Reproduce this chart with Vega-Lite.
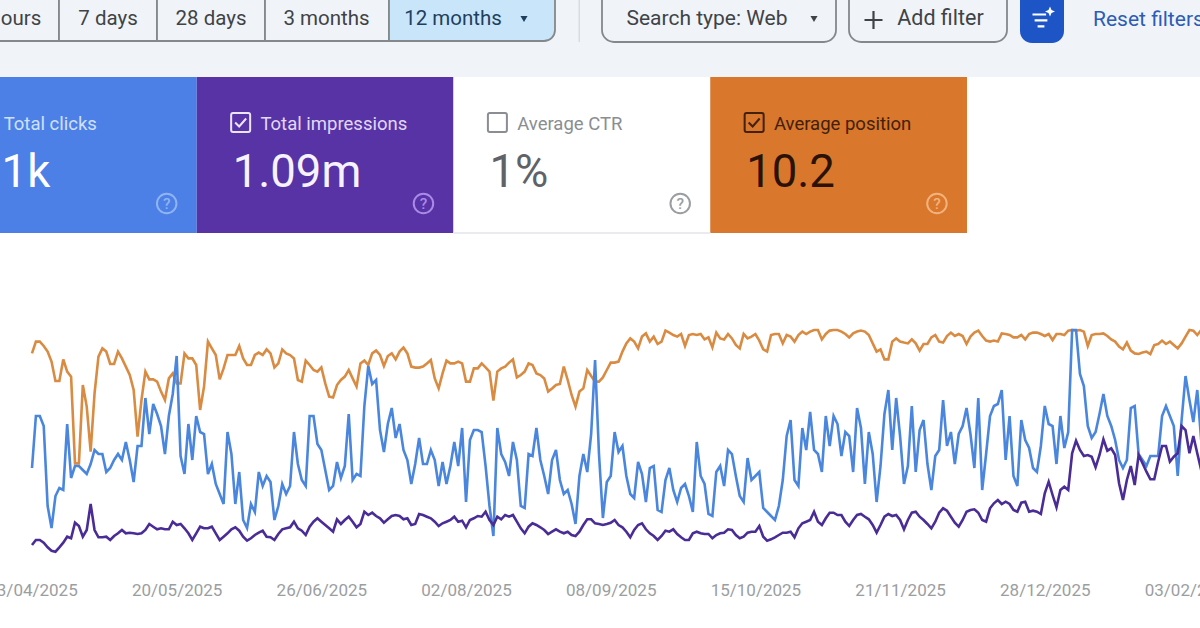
{"$schema":"https://vega.github.io/schema/vega-lite/v6.json","width":1200,"height":628,"padding":0,"autosize":{"type":"none"},"background":"#ffffff","config":{"view":{"stroke":null},"font":"Roboto"},
"datasets":{"cards":[{"metric":"Total clicks","headline":"1k","checked":true},{"metric":"Total impressions","headline":"1.09m","checked":true},{"metric":"Average CTR","headline":"1%","checked":false},{"metric":"Average position","headline":"10.2","checked":true}],
"daily":[
{"d":"2025-04-13","c":46,"i":1500,"p":9.67},{"d":"2025-04-14","c":72,"i":2000,"p":9.08},{"d":"2025-04-15","c":72,"i":2000,"p":9.08},{"d":"2025-04-16","c":67,"i":1730,"p":9.3},{"d":"2025-04-17","c":27,"i":1270,"p":9.58},{"d":"2025-04-18","c":16,"i":930,"p":10.08},{"d":"2025-04-19","c":32,"i":830,"p":11.05},{"d":"2025-04-20","c":36,"i":1270,"p":11.05},{"d":"2025-04-21","c":35,"i":1730,"p":9.97},{"d":"2025-04-22","c":68,"i":2330,"p":10.58},
{"d":"2025-04-23","c":41,"i":2170,"p":10.83},{"d":"2025-04-24","c":47,"i":3730,"p":15.17},{"d":"2025-04-25","c":47,"i":3400,"p":15.17},{"d":"2025-04-26","c":45,"i":2330,"p":11.25},{"d":"2025-04-27","c":43,"i":3000,"p":12.33},{"d":"2025-04-28","c":48,"i":5600,"p":14.58},{"d":"2025-04-29","c":55,"i":3000,"p":11.67},{"d":"2025-04-30","c":53,"i":2270,"p":9.83},{"d":"2025-05-01","c":53,"i":2270,"p":9.42},{"d":"2025-05-02","c":44,"i":2330,"p":9.58},
{"d":"2025-05-03","c":46,"i":2000,"p":10.2},{"d":"2025-05-04","c":50,"i":2400,"p":10.2},{"d":"2025-05-05","c":53,"i":2670,"p":9.58},{"d":"2025-05-06","c":50,"i":3000,"p":9.92},{"d":"2025-05-07","c":59,"i":2670,"p":10.33},{"d":"2025-05-08","c":50,"i":2730,"p":10.75},{"d":"2025-05-09","c":39,"i":2670,"p":11.5},{"d":"2025-05-10","c":57,"i":2600,"p":13.83},{"d":"2025-05-11","c":57,"i":2670,"p":12},{"d":"2025-05-12","c":81,"i":3000,"p":10.58},
{"d":"2025-05-13","c":63,"i":3600,"p":10.97},{"d":"2025-05-14","c":78,"i":3330,"p":10.97},{"d":"2025-05-15","c":73,"i":3070,"p":11.08},{"d":"2025-05-16","c":67,"i":3170,"p":11.58},{"d":"2025-05-17","c":53,"i":3070,"p":12},{"d":"2025-05-18","c":72,"i":3070,"p":10.92},{"d":"2025-05-19","c":83,"i":3830,"p":10.67},{"d":"2025-05-20","c":102,"i":3500,"p":11.17},{"d":"2025-05-21","c":52,"i":3600,"p":11.17},{"d":"2025-05-22","c":43,"i":3170,"p":9.67},
{"d":"2025-05-23","c":68,"i":2670,"p":9.92},{"d":"2025-05-24","c":50,"i":2000,"p":9.92},{"d":"2025-05-25","c":72,"i":2670,"p":10.25},{"d":"2025-05-26","c":64,"i":3330,"p":12.5},{"d":"2025-05-27","c":63,"i":3170,"p":11.33},{"d":"2025-05-28","c":43,"i":3170,"p":9.08},{"d":"2025-05-29","c":48,"i":3330,"p":9.42},{"d":"2025-05-30","c":38,"i":2670,"p":9.75},{"d":"2025-05-31","c":33,"i":2000,"p":10.97},{"d":"2025-06-01","c":28,"i":2330,"p":10.42},
{"d":"2025-06-02","c":64,"i":2670,"p":9.75},{"d":"2025-06-03","c":53,"i":3070,"p":9.75},{"d":"2025-06-04","c":28,"i":3270,"p":9.75},{"d":"2025-06-05","c":44,"i":2930,"p":9.3},{"d":"2025-06-06","c":20,"i":2330,"p":9.92},{"d":"2025-06-07","c":16,"i":1930,"p":10.25},{"d":"2025-06-08","c":28,"i":2170,"p":10.25},{"d":"2025-06-09","c":24,"i":2500,"p":9.75},{"d":"2025-06-10","c":44,"i":2730,"p":9.63},{"d":"2025-06-11","c":37,"i":2930,"p":9.75},
{"d":"2025-06-12","c":42,"i":2330,"p":9.47},{"d":"2025-06-13","c":39,"i":2270,"p":9.67},{"d":"2025-06-14","c":20,"i":2000,"p":10.37},{"d":"2025-06-15","c":27,"i":2600,"p":10.17},{"d":"2025-06-16","c":38,"i":3070,"p":9.47},{"d":"2025-06-17","c":33,"i":3170,"p":9.67},{"d":"2025-06-18","c":37,"i":3270,"p":9.75},{"d":"2025-06-19","c":64,"i":3830,"p":9.92},{"d":"2025-06-20","c":48,"i":3170,"p":11},
{"d":"2025-06-21","c":40,"i":2930,"p":11.08},{"d":"2025-06-22","c":37,"i":2500,"p":10.03},{"d":"2025-06-23","c":72,"i":3330,"p":10.25},{"d":"2025-06-24","c":72,"i":3830,"p":10.5},{"d":"2025-06-25","c":58,"i":4170,"p":10.58},{"d":"2025-06-26","c":55,"i":3830,"p":10.37},{"d":"2025-06-27","c":45,"i":3500,"p":11.17},{"d":"2025-06-28","c":35,"i":3170,"p":11.83},{"d":"2025-06-29","c":37,"i":2830,"p":11.87},{"d":"2025-06-30","c":49,"i":4070,"p":11.25},
{"d":"2025-07-01","c":41,"i":3600,"p":11},{"d":"2025-07-02","c":47,"i":4000,"p":10.83},{"d":"2025-07-03","c":73,"i":4330,"p":10.5},{"d":"2025-07-04","c":40,"i":3830,"p":10.92},{"d":"2025-07-05","c":43,"i":3270,"p":11.33},{"d":"2025-07-06","c":42,"i":3600,"p":10.17},{"d":"2025-07-07","c":77,"i":4830,"p":10.03},{"d":"2025-07-08","c":97,"i":4500,"p":10.25},{"d":"2025-07-09","c":88,"i":4730,"p":9.67},{"d":"2025-07-10","c":90,"i":4400,"p":9.53},
{"d":"2025-07-11","c":65,"i":4170,"p":9.75},{"d":"2025-07-12","c":54,"i":3730,"p":10.3},{"d":"2025-07-13","c":68,"i":4070,"p":9.8},{"d":"2025-07-14","c":76,"i":4400,"p":9.67},{"d":"2025-07-15","c":61,"i":4500,"p":9.97},{"d":"2025-07-16","c":68,"i":4400,"p":9.58},{"d":"2025-07-17","c":55,"i":4070,"p":9.38},{"d":"2025-07-18","c":50,"i":4170,"p":9.67},{"d":"2025-07-19","c":38,"i":3500,"p":10.33},{"d":"2025-07-20","c":48,"i":3600,"p":10.38},
{"d":"2025-07-21","c":61,"i":4600,"p":10.38},{"d":"2025-07-22","c":48,"i":4500,"p":10.33},{"d":"2025-07-23","c":48,"i":4330,"p":10.17},{"d":"2025-07-24","c":55,"i":4170,"p":10},{"d":"2025-07-25","c":50,"i":3830,"p":10.92},{"d":"2025-07-26","c":37,"i":3400,"p":11.42},{"d":"2025-07-27","c":49,"i":3670,"p":10.67},{"d":"2025-07-28","c":38,"i":3830,"p":10.03},{"d":"2025-07-29","c":47,"i":4000,"p":10.17},{"d":"2025-07-30","c":59,"i":4330,"p":10.17},
{"d":"2025-07-31","c":47,"i":3830,"p":10.08},{"d":"2025-08-01","c":66,"i":3930,"p":10.17},{"d":"2025-08-02","c":29,"i":3270,"p":11.08},{"d":"2025-08-03","c":60,"i":4000,"p":11.08},{"d":"2025-08-04","c":65,"i":4170,"p":10.42},{"d":"2025-08-05","c":65,"i":4400,"p":10.42},{"d":"2025-08-06","c":64,"i":4330,"p":10.17},{"d":"2025-08-07","c":47,"i":4830,"p":10.37},{"d":"2025-08-08","c":27,"i":4000,"p":10.58},{"d":"2025-08-09","c":12,"i":3500,"p":12.03},
{"d":"2025-08-10","c":66,"i":4330,"p":10.58},{"d":"2025-08-11","c":53,"i":4070,"p":10.42},{"d":"2025-08-12","c":49,"i":4500,"p":10.33},{"d":"2025-08-13","c":42,"i":4330,"p":10.13},{"d":"2025-08-14","c":59,"i":4500,"p":9.97},{"d":"2025-08-15","c":50,"i":3830,"p":10.87},{"d":"2025-08-16","c":27,"i":3170,"p":10.75},{"d":"2025-08-17","c":26,"i":2670,"p":10.58},{"d":"2025-08-18","c":53,"i":3330,"p":10.17},{"d":"2025-08-19","c":52,"i":3670,"p":10.25},
{"d":"2025-08-20","c":66,"i":3500,"p":10.67},{"d":"2025-08-21","c":50,"i":3270,"p":10.75},{"d":"2025-08-22","c":42,"i":3000,"p":10.92},{"d":"2025-08-23","c":33,"i":2600,"p":11.58},{"d":"2025-08-24","c":50,"i":2830,"p":11.42},{"d":"2025-08-25","c":55,"i":3070,"p":11.25},{"d":"2025-08-26","c":40,"i":2830,"p":11.2},{"d":"2025-08-27","c":33,"i":2670,"p":10.33},{"d":"2025-08-28","c":35,"i":2830,"p":11},{"d":"2025-08-29","c":28,"i":2500,"p":11.75},
{"d":"2025-08-30","c":18,"i":2400,"p":12.33},{"d":"2025-08-31","c":42,"i":2830,"p":11.58},{"d":"2025-09-01","c":53,"i":3500,"p":11.42},{"d":"2025-09-02","c":44,"i":4070,"p":10.5},{"d":"2025-09-03","c":63,"i":4070,"p":10.8},{"d":"2025-09-04","c":100,"i":3670,"p":11.08},{"d":"2025-09-05","c":53,"i":3600,"p":11.08},{"d":"2025-09-06","c":21,"i":3500,"p":10.87},{"d":"2025-09-07","c":39,"i":3600,"p":10.5},{"d":"2025-09-08","c":42,"i":3730,"p":10.13},
{"d":"2025-09-09","c":64,"i":4000,"p":10.13},{"d":"2025-09-10","c":54,"i":3500,"p":10.08},{"d":"2025-09-11","c":57,"i":3270,"p":9.58},{"d":"2025-09-12","c":42,"i":2830,"p":9.17},{"d":"2025-09-13","c":33,"i":2270,"p":8.92},{"d":"2025-09-14","c":31,"i":3000,"p":9.08},{"d":"2025-09-15","c":49,"i":3500,"p":9.42},{"d":"2025-09-16","c":43,"i":3670,"p":8.83},{"d":"2025-09-17","c":29,"i":3070,"p":8.67},{"d":"2025-09-18","c":46,"i":2670,"p":9.08},
{"d":"2025-09-19","c":47,"i":2400,"p":8.83},{"d":"2025-09-20","c":25,"i":2000,"p":9.2},{"d":"2025-09-21","c":24,"i":2400,"p":9.08},{"d":"2025-09-22","c":40,"i":2930,"p":8.53},{"d":"2025-09-23","c":46,"i":2830,"p":8.63},{"d":"2025-09-24","c":35,"i":3070,"p":8.75},{"d":"2025-09-25","c":29,"i":2600,"p":8.83},{"d":"2025-09-26","c":36,"i":2270,"p":8.7},{"d":"2025-09-27","c":38,"i":2000,"p":9.3},{"d":"2025-09-28","c":32,"i":2000,"p":8.75},
{"d":"2025-09-29","c":24,"i":2670,"p":8.7},{"d":"2025-09-30","c":59,"i":2830,"p":8.75},{"d":"2025-10-01","c":42,"i":2670,"p":8.7},{"d":"2025-10-02","c":38,"i":2600,"p":8.97},{"d":"2025-10-03","c":23,"i":2600,"p":8.87},{"d":"2025-10-04","c":22,"i":2170,"p":9.37},{"d":"2025-10-05","c":44,"i":2500,"p":8.63},{"d":"2025-10-06","c":47,"i":2670,"p":8.92},{"d":"2025-10-07","c":37,"i":2730,"p":8.97},{"d":"2025-10-08","c":55,"i":3070,"p":8.7},
{"d":"2025-10-09","c":53,"i":3000,"p":8.92},{"d":"2025-10-10","c":42,"i":2500,"p":9.25},{"d":"2025-10-11","c":32,"i":2170,"p":9.42},{"d":"2025-10-12","c":29,"i":2330,"p":8.7},{"d":"2025-10-13","c":51,"i":2730,"p":8.92},{"d":"2025-10-14","c":40,"i":2830,"p":8.83},{"d":"2025-10-15","c":42,"i":2830,"p":8.7},{"d":"2025-10-16","c":44,"i":3400,"p":9.03},{"d":"2025-10-17","c":26,"i":2330,"p":9.47},{"d":"2025-10-18","c":24,"i":1930,"p":9.58},
{"d":"2025-10-19","c":22,"i":2070,"p":8.75},{"d":"2025-10-20","c":20,"i":2270,"p":8.7},{"d":"2025-10-21","c":27,"i":2500,"p":8.7},{"d":"2025-10-22","c":40,"i":2730,"p":9.17},{"d":"2025-10-23","c":62,"i":2730,"p":8.75},{"d":"2025-10-24","c":70,"i":2830,"p":8.83},{"d":"2025-10-25","c":40,"i":2270,"p":9.08},{"d":"2025-10-26","c":37,"i":3170,"p":8.75},{"d":"2025-10-27","c":66,"i":3670,"p":8.58},{"d":"2025-10-28","c":55,"i":3830,"p":8.7},
{"d":"2025-10-29","c":74,"i":4000,"p":8.58},{"d":"2025-10-30","c":55,"i":4830,"p":8.5},{"d":"2025-10-31","c":53,"i":3830,"p":8.5},{"d":"2025-11-01","c":44,"i":3500,"p":8.97},{"d":"2025-11-02","c":72,"i":4170,"p":8.7},{"d":"2025-11-03","c":57,"i":4730,"p":8.53},{"d":"2025-11-04","c":72,"i":4730,"p":8.5},{"d":"2025-11-05","c":68,"i":4500,"p":8.5},{"d":"2025-11-06","c":52,"i":4500,"p":8.58},{"d":"2025-11-07","c":64,"i":3830,"p":8.7},
{"d":"2025-11-08","c":62,"i":3400,"p":8.87},{"d":"2025-11-09","c":44,"i":4000,"p":8.67},{"d":"2025-11-10","c":76,"i":4500,"p":8.58},{"d":"2025-11-11","c":66,"i":4600,"p":8.53},{"d":"2025-11-12","c":38,"i":4330,"p":8.58},{"d":"2025-11-13","c":64,"i":4070,"p":8.75},{"d":"2025-11-14","c":53,"i":3500,"p":9.17},{"d":"2025-11-15","c":29,"i":2730,"p":9.58},{"d":"2025-11-16","c":47,"i":3500,"p":9.47},{"d":"2025-11-17","c":73,"i":4330,"p":9.97},
{"d":"2025-11-18","c":85,"i":4600,"p":9.97},{"d":"2025-11-19","c":55,"i":4400,"p":9.08},{"d":"2025-11-20","c":81,"i":4500,"p":8.92},{"d":"2025-11-21","c":62,"i":4000,"p":9.08},{"d":"2025-11-22","c":38,"i":3070,"p":9.13},{"d":"2025-11-23","c":47,"i":4000,"p":9.17},{"d":"2025-11-24","c":77,"i":4730,"p":8.97},{"d":"2025-11-25","c":44,"i":4830,"p":9.17},{"d":"2025-11-26","c":65,"i":4330,"p":9.53},{"d":"2025-11-27","c":70,"i":4000,"p":9.2},
{"d":"2025-11-28","c":48,"i":3600,"p":9.2},{"d":"2025-11-29","c":35,"i":3170,"p":8.87},{"d":"2025-11-30","c":52,"i":3830,"p":8.75},{"d":"2025-12-01","c":55,"i":4730,"p":9.08},{"d":"2025-12-02","c":80,"i":5170,"p":9.13},{"d":"2025-12-03","c":57,"i":4930,"p":8.8},{"d":"2025-12-04","c":64,"i":4330,"p":8.63},{"d":"2025-12-05","c":48,"i":3730,"p":8.8},{"d":"2025-12-06","c":63,"i":3330,"p":8.7},{"d":"2025-12-07","c":67,"i":4000,"p":8.8},
{"d":"2025-12-08","c":76,"i":4830,"p":9.2},{"d":"2025-12-09","c":63,"i":5000,"p":8.83},{"d":"2025-12-10","c":46,"i":5070,"p":8.63},{"d":"2025-12-11","c":81,"i":4730,"p":8.53},{"d":"2025-12-12","c":35,"i":4000,"p":8.8},{"d":"2025-12-13","c":53,"i":3830,"p":9.03},{"d":"2025-12-14","c":72,"i":5170,"p":9.08},{"d":"2025-12-15","c":77,"i":5670,"p":9.03},{"d":"2025-12-16","c":78,"i":6000,"p":9.08},{"d":"2025-12-17","c":85,"i":5600,"p":8.67},
{"d":"2025-12-18","c":50,"i":5830,"p":8.7},{"d":"2025-12-19","c":72,"i":5600,"p":8.75},{"d":"2025-12-20","c":42,"i":5000,"p":8.87},{"d":"2025-12-21","c":37,"i":4830,"p":8.87},{"d":"2025-12-22","c":70,"i":5730,"p":8.75},{"d":"2025-12-23","c":60,"i":5830,"p":8.97},{"d":"2025-12-24","c":56,"i":4830,"p":8.7},{"d":"2025-12-25","c":46,"i":4930,"p":8.63},{"d":"2025-12-26","c":44,"i":4830,"p":8.63},{"d":"2025-12-27","c":57,"i":4600,"p":8.7},
{"d":"2025-12-28","c":77,"i":6670,"p":8.8},{"d":"2025-12-29","c":68,"i":7830,"p":8.7},{"d":"2025-12-30","c":67,"i":6500,"p":9},{"d":"2025-12-31","c":48,"i":5270,"p":8.7},{"d":"2026-01-01","c":72,"i":7000,"p":8.7},{"d":"2026-01-02","c":56,"i":7330,"p":8.75},{"d":"2026-01-03","c":64,"i":7000,"p":8.53},{"d":"2026-01-04","c":115,"i":10670,"p":8.5},{"d":"2026-01-05","c":115,"i":11930,"p":8.53},{"d":"2026-01-06","c":93,"i":11000,"p":8.5},
{"d":"2026-01-07","c":87,"i":10400,"p":8.58},{"d":"2026-01-08","c":67,"i":10500,"p":9.3},{"d":"2026-01-09","c":61,"i":10330,"p":8.75},{"d":"2026-01-10","c":64,"i":9270,"p":8.7},{"d":"2026-01-11","c":73,"i":10500,"p":8.7},{"d":"2026-01-12","c":83,"i":12070,"p":8.67},{"d":"2026-01-13","c":72,"i":10930,"p":8.8},{"d":"2026-01-14","c":67,"i":11170,"p":8.97},{"d":"2026-01-15","c":60,"i":10500,"p":9.08},{"d":"2026-01-16","c":50,"i":7670,"p":9.33},
{"d":"2026-01-17","c":46,"i":6000,"p":9.47},{"d":"2026-01-18","c":50,"i":8000,"p":9.13},{"d":"2026-01-19","c":76,"i":9400,"p":9.53},{"d":"2026-01-20","c":77,"i":7500,"p":9.67},{"d":"2026-01-21","c":53,"i":10500,"p":9.7},{"d":"2026-01-22","c":50,"i":9670,"p":9.63},{"d":"2026-01-23","c":47,"i":8830,"p":9.58},{"d":"2026-01-24","c":52,"i":8070,"p":9.7},{"d":"2026-01-25","c":52,"i":8070,"p":9.25},{"d":"2026-01-26","c":52,"i":9830,"p":9.2},
{"d":"2026-01-27","c":72,"i":11400,"p":9.03},{"d":"2026-01-28","c":77,"i":11400,"p":9.2},{"d":"2026-01-29","c":72,"i":9830,"p":9.08},{"d":"2026-01-30","c":67,"i":10330,"p":9.25},{"d":"2026-01-31","c":42,"i":10670,"p":9.42},{"d":"2026-02-01","c":70,"i":13400,"p":9.17},{"d":"2026-02-02","c":92,"i":13000,"p":8.83},{"d":"2026-02-03","c":80,"i":10670,"p":8.5},{"d":"2026-02-04","c":69,"i":12400,"p":8.53},{"d":"2026-02-05","c":85,"i":10670,"p":8.75},{"d":"2026-02-06","c":60,"i":9000,"p":8.5}
]},
"resolve":{"scale":{"x":"independent","y":"independent","color":"independent"}},
"layer":[
{"data":{"values":[{"region":"toolbar background"}]},"mark":{"type":"rect","color":"#f0f4f9"},"encoding":{"y":{"value":0},"y2":{"value":77}}},
{"data":{"values":[{"control":"24 hours"}]},"mark":{"type":"rect","fill":"#f0f4f9","stroke":"#84888c","strokeWidth":1.8},"encoding":{"x":{"value":-40},"x2":{"value":59},"y":{"value":-20},"y2":{"value":41}}},
{"data":{"values":[{"control":"7 days"}]},"mark":{"type":"rect","fill":"#f0f4f9","stroke":"#84888c","strokeWidth":1.8},"encoding":{"x":{"value":59},"x2":{"value":157},"y":{"value":-20},"y2":{"value":41}}},
{"data":{"values":[{"control":"28 days"}]},"mark":{"type":"rect","fill":"#f0f4f9","stroke":"#84888c","strokeWidth":1.8},"encoding":{"x":{"value":157},"x2":{"value":265},"y":{"value":-20},"y2":{"value":41}}},
{"data":{"values":[{"control":"3 months"}]},"mark":{"type":"rect","fill":"#f0f4f9","stroke":"#84888c","strokeWidth":1.8},"encoding":{"x":{"value":265},"x2":{"value":389},"y":{"value":-20},"y2":{"value":41}}},
{"data":{"values":[{"control":"12 months"}]},"mark":{"type":"rect","fill":"#c9e5fa","stroke":"#84888c","strokeWidth":1.8,"cornerRadiusBottomRight":11},"encoding":{"x":{"value":389},"x2":{"value":555},"y":{"value":-20},"y2":{"value":41}}},
{"data":{"values":[{"control":"divider"}]},"mark":{"type":"rect","fill":"#d8dce1"},"encoding":{"x":{"value":578.5},"x2":{"value":580},"y":{"value":-2},"y2":{"value":42}}},
{"data":{"values":[{"control":"Search type"}]},"mark":{"type":"rect","fill":"#f0f4f9","stroke":"#84888c","strokeWidth":1.8,"cornerRadius":12},"encoding":{"x":{"value":602},"x2":{"value":836},"y":{"value":-20},"y2":{"value":42}}},
{"data":{"values":[{"control":"Add filter"}]},"mark":{"type":"rect","fill":"#f0f4f9","stroke":"#84888c","strokeWidth":1.8,"cornerRadius":12},"encoding":{"x":{"value":849},"x2":{"value":1007},"y":{"value":-20},"y2":{"value":42}}},
{"data":{"values":[{"control":"Search analytics"}]},"mark":{"type":"rect","fill":"#1d55c6","cornerRadius":12},"encoding":{"x":{"value":1020},"x2":{"value":1064},"y":{"value":-20},"y2":{"value":43}}},
{"data":{"values":[{"label":"ours"}]},"mark":{"type":"text","font":"Roboto","fontSize":20.5,"color":"#3f4346"},"encoding":{"x":{"value":21},"y":{"value":19},"text":{"field":"label"}}},
{"data":{"values":[{"label":"7 days"}]},"mark":{"type":"text","font":"Roboto","fontSize":20.5,"color":"#3f4346"},"encoding":{"x":{"value":108},"y":{"value":19},"text":{"field":"label"}}},
{"data":{"values":[{"label":"28 days"}]},"mark":{"type":"text","font":"Roboto","fontSize":20.5,"color":"#3f4346"},"encoding":{"x":{"value":211},"y":{"value":19},"text":{"field":"label"}}},
{"data":{"values":[{"label":"3 months"}]},"mark":{"type":"text","font":"Roboto","fontSize":20.5,"color":"#3f4346"},"encoding":{"x":{"value":326.5},"y":{"value":19},"text":{"field":"label"}}},
{"data":{"values":[{"label":"12 months"}]},"mark":{"type":"text","font":"Roboto","fontSize":20.5,"color":"#1f3f5f"},"encoding":{"x":{"value":453},"y":{"value":19},"text":{"field":"label"}}},
{"data":{"values":[{"label":"Search type: Web"}]},"mark":{"type":"text","font":"Roboto","fontSize":21,"color":"#3f4346"},"encoding":{"x":{"value":707},"y":{"value":19},"text":{"field":"label"}}},
{"data":{"values":[{"label":"Add filter"}]},"mark":{"type":"text","font":"Roboto","fontSize":21.5,"color":"#3f4346"},"encoding":{"x":{"value":940.5},"y":{"value":19},"text":{"field":"label"}}},
{"data":{"values":[{"label":"Reset filters"}]},"mark":{"type":"text","font":"Roboto","fontSize":21,"color":"#2c5cb5","align":"left"},"encoding":{"x":{"value":1093},"y":{"value":20},"text":{"field":"label"}}},
{"data":{"values":[{"control":"12 months menu"}]},"mark":{"type":"point","shape":"triangle-down","filled":true,"size":50,"color":"#1f3f5f","opacity":1},"encoding":{"x":{"value":524},"y":{"value":19}}},
{"data":{"values":[{"control":"Search type menu"}]},"mark":{"type":"point","shape":"triangle-down","filled":true,"size":50,"color":"#3f4346","opacity":1},"encoding":{"x":{"value":814},"y":{"value":19}}},
{"data":{"values":[{"control":"plus"}]},"mark":{"type":"point","shape":"M-1,0H1M0,-1V1","size":324,"filled":false,"strokeWidth":2.2,"color":"#3f4346","opacity":1},"encoding":{"x":{"value":873.5},"y":{"value":20}}},
{"data":{"values":[{"control":"filter icon"}]},"mark":{"type":"point","shape":"M-1,-0.65H0.6M-0.75,0.05H0.75M-0.4,0.75H0.4","size":289,"filled":false,"strokeWidth":2.2,"color":"#ffffff","opacity":1},"encoding":{"x":{"value":1041},"y":{"value":20}}},
{"data":{"values":[{"control":"sparkle"}]},"mark":{"type":"point","shape":"M0,-1L0.3,-0.3L1,0L0.3,0.3L0,1L-0.3,0.3L-1,0L-0.3,-0.3Z","size":100,"filled":true,"color":"#ffffff","opacity":1},"encoding":{"x":{"value":1050},"y":{"value":11.5}}},
{"data":{"name":"cards"},"mark":{"type":"rect"},"encoding":{"x":{"field":"metric","type":"nominal","axis":null,"scale":{"type":"band","domain":["Total clicks","Total impressions","Average CTR","Average position"],"range":[-60,967],"paddingInner":0,"paddingOuter":0}},"y":{"value":77},"y2":{"value":233},"fill":{"field":"metric","type":"nominal","legend":null,"scale":{"domain":["Total clicks","Total impressions","Average CTR","Average position"],"range":["#4d80e6","#5733a6","#ffffff","#d9772c"]}}}},
{"data":{"name":"cards"},"transform":[{"filter":"datum.metric==='Average CTR'"}],"mark":{"type":"rect","fill":"#e9ebee"},"encoding":{"x":{"field":"metric","type":"nominal","axis":null,"scale":{"type":"band","domain":["Total clicks","Total impressions","Average CTR","Average position"],"range":[-60,967],"paddingInner":0,"paddingOuter":0}},"y":{"value":232},"y2":{"value":234}}},
{"data":{"name":"cards"},"mark":{"type":"text","font":"Roboto","fontSize":18.5,"align":"left"},"encoding":{"x":{"field":"metric","type":"nominal","axis":null,"bandPosition":0.248,"scale":{"type":"band","domain":["Total clicks","Total impressions","Average CTR","Average position"],"range":[-60,967],"paddingInner":0,"paddingOuter":0}},"y":{"value":123.5},"text":{"field":"metric"},"color":{"field":"metric","type":"nominal","legend":null,"scale":{"domain":["Total clicks","Total impressions","Average CTR","Average position"],"range":["#cfe0fb","#e2d8f7","#8a8d91","#43200a"]}}}},
{"data":{"name":"cards"},"transform":[{"filter":"datum.metric!=='Total clicks'"}],"mark":{"type":"text","font":"Roboto","fontSize":45.5,"fontWeight":400,"align":"left"},"encoding":{"x":{"field":"metric","type":"nominal","axis":null,"bandPosition":0.14,"scale":{"type":"band","domain":["Total clicks","Total impressions","Average CTR","Average position"],"range":[-60,967],"paddingInner":0,"paddingOuter":0}},"y":{"value":173},"text":{"field":"headline"},"color":{"field":"metric","type":"nominal","legend":null,"scale":{"domain":["Total clicks","Total impressions","Average CTR","Average position"],"range":["#ffffff","#f7f2ff","#5f6368","#2a1206"]}}}},
{"data":{"name":"cards"},"transform":[{"filter":"datum.metric==='Total clicks'"}],"mark":{"type":"text","font":"Roboto","fontSize":45.5,"fontWeight":400,"align":"left","color":"#ffffff"},"encoding":{"x":{"field":"metric","type":"nominal","axis":null,"bandPosition":0.24,"scale":{"type":"band","domain":["Total clicks","Total impressions","Average CTR","Average position"],"range":[-60,967],"paddingInner":0,"paddingOuter":0}},"y":{"value":173},"text":{"field":"headline"}}},
{"data":{"name":"cards"},"mark":{"type":"point","shape":"M-0.8,-1H0.8A0.2,0.2 0 0 1 1,-0.8V0.8A0.2,0.2 0 0 1 0.8,1H-0.8A0.2,0.2 0 0 1 -1,0.8V-0.8A0.2,0.2 0 0 1 -0.8,-1Z","size":361,"filled":false,"strokeWidth":2,"opacity":1},"encoding":{"x":{"field":"metric","type":"nominal","axis":null,"bandPosition":0.171,"scale":{"type":"band","domain":["Total clicks","Total impressions","Average CTR","Average position"],"range":[-60,967],"paddingInner":0,"paddingOuter":0}},"y":{"value":122.5},"color":{"field":"metric","type":"nominal","legend":null,"scale":{"domain":["Total clicks","Total impressions","Average CTR","Average position"],"range":["#cfe0fb","#ece4fb","#8a8d91","#43200a"]}}}},
{"data":{"name":"cards"},"transform":[{"filter":"datum.checked"}],"mark":{"type":"point","shape":"M-0.55,0L-0.15,0.4L0.55,-0.4","size":400,"filled":false,"strokeWidth":2,"opacity":1},"encoding":{"x":{"field":"metric","type":"nominal","axis":null,"bandPosition":0.171,"scale":{"type":"band","domain":["Total clicks","Total impressions","Average CTR","Average position"],"range":[-60,967],"paddingInner":0,"paddingOuter":0}},"y":{"value":122.5},"color":{"field":"metric","type":"nominal","legend":null,"scale":{"domain":["Total clicks","Total impressions","Average CTR","Average position"],"range":["#cfe0fb","#ece4fb","#8a8d91","#43200a"]}}}},
{"data":{"name":"cards"},"mark":{"type":"point","shape":"circle","size":380,"filled":false,"strokeWidth":2,"opacity":1},"encoding":{"x":{"field":"metric","type":"nominal","axis":null,"bandPosition":0.883,"scale":{"type":"band","domain":["Total clicks","Total impressions","Average CTR","Average position"],"range":[-60,967],"paddingInner":0,"paddingOuter":0}},"y":{"value":203.5},"color":{"field":"metric","type":"nominal","legend":null,"scale":{"domain":["Total clicks","Total impressions","Average CTR","Average position"],"range":["#8fb4f2","#a98ae6","#9a9da1","#f3b27c"]}}}},
{"data":{"values":[{"metric":"Total clicks","help":"?"},{"metric":"Total impressions","help":"?"},{"metric":"Average CTR","help":"?"},{"metric":"Average position","help":"?"}]},"mark":{"type":"text","font":"Roboto","fontSize":15.5,"fontWeight":500},"encoding":{"x":{"field":"metric","type":"nominal","axis":null,"bandPosition":0.883,"scale":{"type":"band","domain":["Total clicks","Total impressions","Average CTR","Average position"],"range":[-60,967],"paddingInner":0,"paddingOuter":0}},"y":{"value":204},"text":{"field":"help"},"color":{"field":"metric","type":"nominal","legend":null,"scale":{"domain":["Total clicks","Total impressions","Average CTR","Average position"],"range":["#8fb4f2","#a98ae6","#9a9da1","#f3b27c"]}}}},
{"data":{"name":"daily"},"mark":{"type":"line","color":"#d98b42","strokeWidth":2.6},"encoding":{"x":{"field":"d","type":"temporal","scale":{"type":"utc","domain":[{"year":2025,"month":4,"date":4,"hours":19,"minutes":40,"utc":true},{"year":2026,"month":2,"date":5,"hours":16,"minutes":48,"utc":true}]},"axis":{"orient":"bottom","offset":-46,"domain":false,"ticks":false,"grid":false,"title":null,"format":"%d/%m/%Y","labelFont":"Roboto","labelFontSize":17,"labelColor":"#9b9ea1","labelPadding":0,"labelOverlap":false,"labelFlush":false,"labelBound":false,"values":[{"year":2025,"month":4,"date":13,"utc":true},{"year":2025,"month":5,"date":20,"utc":true},{"year":2025,"month":6,"date":26,"utc":true},{"year":2025,"month":8,"date":2,"utc":true},{"year":2025,"month":9,"date":8,"utc":true},{"year":2025,"month":10,"date":15,"utc":true},{"year":2025,"month":11,"date":21,"utc":true},{"year":2025,"month":12,"date":28,"utc":true},{"year":2026,"month":2,"date":3,"utc":true}]}},"y":{"field":"p","type":"quantitative","axis":null,"scale":{"domain":[8,20],"range":[320,560],"zero":false}}}},
{"data":{"name":"daily"},"mark":{"type":"line","color":"#4a86dd","strokeWidth":2.6},"encoding":{"x":{"field":"d","type":"temporal","axis":null,"scale":{"type":"utc","domain":[{"year":2025,"month":4,"date":4,"hours":19,"minutes":40,"utc":true},{"year":2026,"month":2,"date":5,"hours":16,"minutes":48,"utc":true}]}},"y":{"field":"c","type":"quantitative","axis":null,"scale":{"domain":[0,120],"range":[560,320]}}}},
{"data":{"name":"daily"},"mark":{"type":"line","color":"#4a2c96","strokeWidth":2.6},"encoding":{"x":{"field":"d","type":"temporal","axis":null,"scale":{"type":"utc","domain":[{"year":2025,"month":4,"date":4,"hours":19,"minutes":40,"utc":true},{"year":2026,"month":2,"date":5,"hours":16,"minutes":48,"utc":true}]}},"y":{"field":"i","type":"quantitative","axis":null,"scale":{"domain":[0,24000],"range":[560,320]}}}}
]}
